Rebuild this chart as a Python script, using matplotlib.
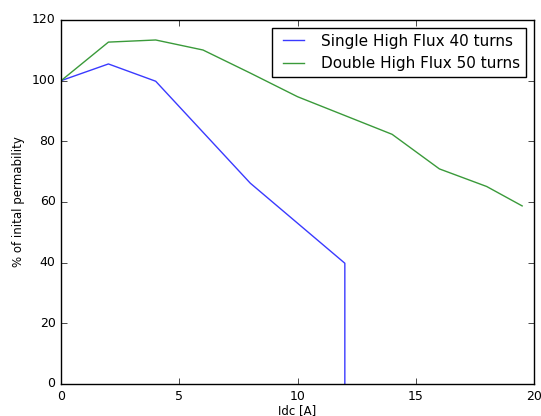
import matplotlib
matplotlib.use("Agg")
import matplotlib.pyplot as plt

plt.style.use('classic')
plt.rcParams['font.family'] = ['DejaVu Sans']

# DC bias current [A]
idc_single = [0, 2, 4, 6, 8, 10, 12, 12]
idc_double = [0, 2, 4, 6, 8, 10, 12, 14, 16, 18, 19.5]

# Percentage of initial permeability
perm_single = [100, 105.5, 99.8, 83, 66.2, 53, 39.8, 0]
perm_double = [100, 112.7, 113.4, 110.1, 102.5, 94.7, 88.5, 82.3, 70.9, 65.1, 58.7]

fig = plt.figure(figsize=(5.41, 4.16), dpi=100, facecolor='white')
ax = fig.add_axes([0.113, 0.077, 0.874, 0.875])

ax.plot(idc_single, perm_single, color='#3a3aff', linewidth=1, label='Single High Flux 40 turns')
ax.plot(idc_double, perm_double, color='#3a9a3a', linewidth=1, label='Double High Flux 50 turns')

ax.set_xlim(0, 20)
ax.set_ylim(0, 120)
ax.tick_params(labelsize=9)
ax.set_xlabel('Idc [A]', fontsize=8.5, labelpad=1)
ax.set_ylabel('% of inital permability', fontsize=8.5)

ax.legend(loc='upper right', fontsize=11)

fig.savefig('out.png', dpi=100, facecolor='white')
